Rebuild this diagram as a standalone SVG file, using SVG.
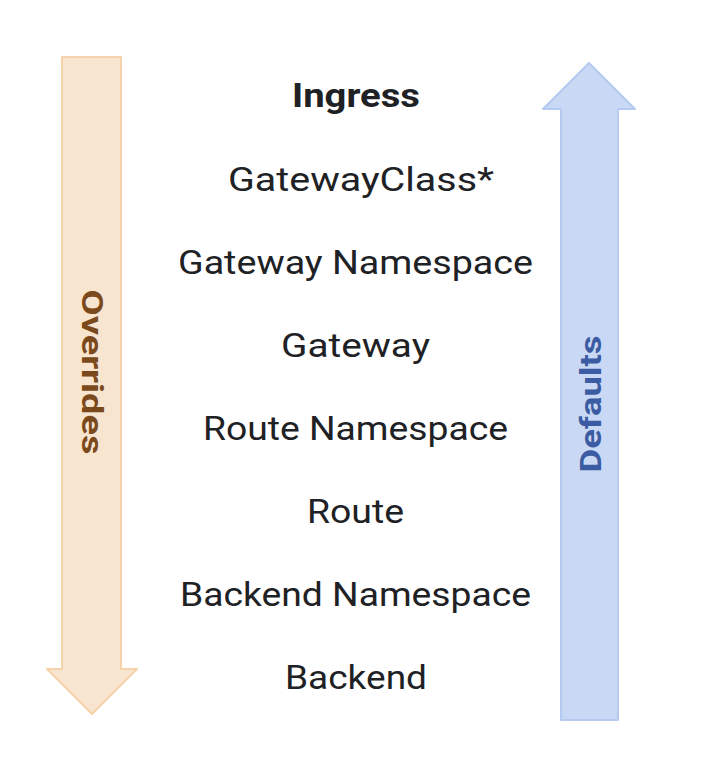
<svg xmlns="http://www.w3.org/2000/svg" width="704" height="774" viewBox="0 0 704 774">
<style>
.lbl{font-family:Roboto,"Noto Sans",sans-serif;font-size:34px;fill:#202124;text-anchor:middle}
.bold{font-weight:bold}
.vert{font-family:Roboto,"Noto Sans",sans-serif;font-size:30px;font-weight:bold;text-anchor:middle;dominant-baseline:central}
</style>
<rect width="704" height="774" fill="#ffffff"/>
<g id="connectors">
<g id="overrides-arrow">
<polygon points="62,57 121,57 121,669 137,669 92,714 47,669 62,669" fill="#f8e5d0" stroke="#f5d2a9" stroke-width="2" stroke-linejoin="round"/>
<text class="vert" x="0" y="0" fill="#7b4a1c" transform="translate(92,372) rotate(90)" textLength="165" lengthAdjust="spacingAndGlyphs">Overrides</text>
</g>
<g id="defaults-arrow">
<polygon points="589,63 635,109 618,109 618,720 561,720 561,109 543,109" fill="#c9d8f4" stroke="#b5caf0" stroke-width="2" stroke-linejoin="round"/>
<text class="vert" x="0" y="0" fill="#3b5ca3" transform="translate(590,404) rotate(-90)" textLength="137" lengthAdjust="spacingAndGlyphs">Defaults</text>
</g>
</g>
<g id="ingress"><text class="lbl bold" x="356" y="107" textLength="128" lengthAdjust="spacingAndGlyphs">Ingress</text></g>
<g id="gatewayclass"><text class="lbl" x="361" y="191" textLength="266" lengthAdjust="spacingAndGlyphs">GatewayClass*</text></g>
<g id="gateway-namespace"><text class="lbl" x="355.5" y="274" textLength="355" lengthAdjust="spacingAndGlyphs">Gateway Namespace</text></g>
<g id="gateway"><text class="lbl" x="355.5" y="357" textLength="149" lengthAdjust="spacingAndGlyphs">Gateway</text></g>
<g id="route-namespace"><text class="lbl" x="355.5" y="440" textLength="305" lengthAdjust="spacingAndGlyphs">Route Namespace</text></g>
<g id="route"><text class="lbl" x="355.5" y="523" textLength="97" lengthAdjust="spacingAndGlyphs">Route</text></g>
<g id="backend-namespace"><text class="lbl" x="355.5" y="606" textLength="351" lengthAdjust="spacingAndGlyphs">Backend Namespace</text></g>
<g id="backend"><text class="lbl" x="356" y="689" textLength="142" lengthAdjust="spacingAndGlyphs">Backend</text></g>
</svg>
